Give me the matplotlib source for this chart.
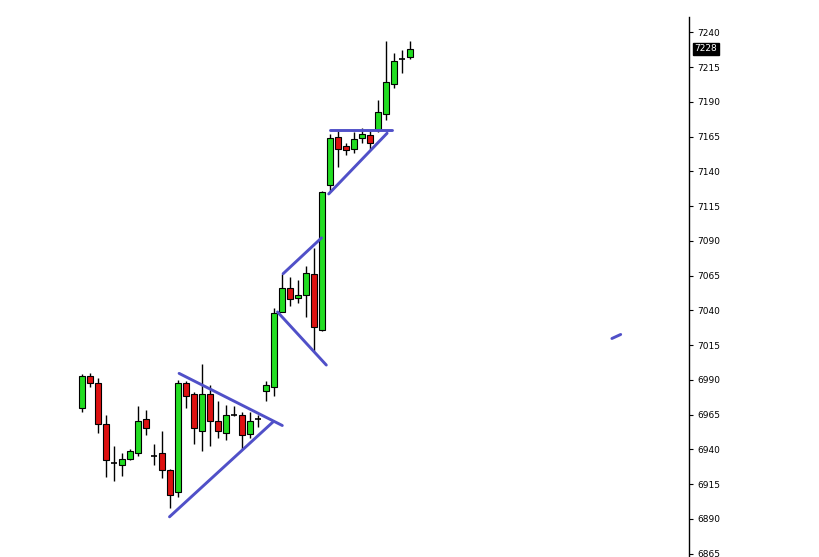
import matplotlib.pyplot as plt

# candle data (oldest -> newest)
opens  = [6970, 6993, 6988, 6958, 6930, 6929, 6933, 6937, 6962, 6935, 6937, 6925,
          6909, 6988, 6980, 6953, 6980, 6960, 6952, 6965, 6965, 6951, 6962, 6982,
          6985, 7039, 7056, 7049, 7051, 7066, 7026, 7130, 7165, 7158, 7156, 7164,
          7166, 7170, 7181, 7203, 7221, 7222]
highs  = [6994, 6995, 6991, 6965, 6942, 6937, 6940, 6971, 6968, 6944, 6953, 6926,
          6990, 6989, 6981, 7001, 6986, 6975, 6972, 6971, 6967, 6967, 6965, 6989,
          7042, 7066, 7064, 7062, 7072, 7085, 7126, 7167, 7169, 7160, 7168, 7171,
          7170, 7191, 7234, 7225, 7227, 7234]
lows   = [6967, 6985, 6952, 6920, 6917, 6921, 6932, 6935, 6950, 6929, 6919, 6898,
          6906, 6970, 6944, 6939, 6942, 6948, 6947, 6964, 6940, 6948, 6956, 6975,
          6978, 7039, 7043, 7045, 7035, 7011, 7025, 7126, 7143, 7152, 7153, 7160,
          7156, 7168, 7177, 7200, 7211, 7221]
closes = [6993, 6988, 6958, 6932, 6930, 6933, 6939, 6960, 6955, 6935, 6925, 6907,
          6988, 6978, 6955, 6980, 6960, 6953, 6965, 6965, 6950, 6960, 6962, 6986,
          7038, 7056, 7048, 7051, 7067, 7028, 7125, 7164, 7156, 7155, 7163, 7167,
          7160, 7183, 7204, 7219, 7221, 7228]

# hand drawn trend lines: (bar index, price) start and end
trend_lines = [
    [(12.1, 6994.6), (25.0, 6957.1)],
    [(10.9, 6891.4), (23.9, 6960.0)],
    [(25.1, 7066.3), (29.9, 7092.1)],
    [(24.4, 7038.8), (30.5, 7000.6)],
    [(31.0, 7169.8), (38.7, 7169.8)],
    [(30.8, 7123.7), (38.1, 7167.4)],
    [(66.2, 7019.7), (67.3, 7022.6)],
]

yticks = list(range(6865, 7241, 25))
last_price = 7228

dpi = 100
fig = plt.figure(dpi=dpi, figsize=(819 / dpi, 557 / dpi))
ax = fig.add_axes([0, 0, 689 / 819, 1 - 17 / 557])

x = list(range(len(opens)))
up_col = '#22dd22'
dn_col = '#dd1111'
for i in x:
    o, h, l, c = opens[i], highs[i], lows[i], closes[i]
    ax.vlines(i, l, h, color='black', linewidth=1, zorder=1)
    if o == c:
        ax.hlines(c, i - 0.38, i + 0.38, color='black', linewidth=1.2, zorder=2)
    else:
        col = up_col if c > o else dn_col
        ax.bar(i, abs(c - o), bottom=min(o, c), width=0.72, color=col,
               edgecolor='black', linewidth=0.8, zorder=2)

for (x0, y0), (x1, y1) in trend_lines:
    ax.plot([x0, x1], [y0, y1], color='#5050c8', linewidth=2.1,
            solid_capstyle='round', zorder=3)

ax.set_xlim(-82.3 / 8, (689 - 82.3) / 8)
ax.set_ylim(6862.5, 7251)
ax.set_xticks([])
ax.set_yticks(yticks)
ax.yaxis.tick_right()
ax.tick_params(axis='y', direction='out', length=3, width=0.8, pad=3,
               labelsize=6.5, colors='black')
for s in ['top', 'left', 'bottom']:
    ax.spines[s].set_visible(False)
ax.spines['right'].set_linewidth(1)

ax.annotate(str(last_price), xy=(1.0, last_price), xycoords=('axes fraction', 'data'),
            xytext=(4, 0), textcoords='offset points', va='center', ha='left',
            fontsize=6.5, color='white',
            bbox=dict(boxstyle='square,pad=0.15', fc='black', ec='black'))

fig.set_facecolor('white')
plt.savefig('out.png', dpi=dpi)
